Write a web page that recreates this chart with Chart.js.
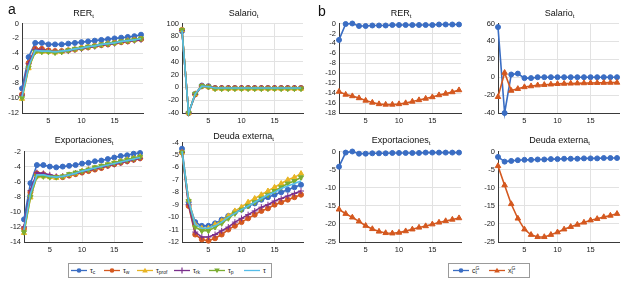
<!DOCTYPE html>
<html>
<head>
<meta charset="utf-8">
<script src="https://cdn.jsdelivr.net/npm/chart.js@4/dist/chart.umd.min.js"></script>
<style>
  html,body{margin:0;padding:0;background:#fff;}
  #wrap{position:relative;width:624px;height:281px;overflow:hidden;font-family:"Liberation Sans",Arial,sans-serif;color:#222;}
  canvas{position:absolute;}
  .ttl{position:absolute;text-align:center;font-size:9px;line-height:10px;color:#111;white-space:nowrap;}
  .ttl sub{font-size:6px;vertical-align:-2px;line-height:0;}
  .pl{position:absolute;font-size:14px;line-height:14px;color:#111;}
  .leg{position:absolute;border:1px solid #9a9a9a;background:#fff;height:13px;}
  .li{position:absolute;top:0;height:13px;font-size:7px;line-height:13px;color:#222;white-space:nowrap;}
  .li svg{position:absolute;top:0;left:0;}
  .li span{position:absolute;top:0;}
  .li sub{font-size:5px;vertical-align:-1px;line-height:0;}
  .li sup{font-size:5px;vertical-align:3px;line-height:0;}
</style>
</head>
<body>
<div id="wrap"></div>
<script>
// ---------- data ----------
const periods = [1,2,3,4,5,6,7,8,9,10,11,12,13,14,15,16,17,18,19];
const xTicks = [5,10,15];

// Panel a, RER_t
const aRER_tc    = [-8.7,-4.5,-2.6,-2.6,-2.8,-2.8,-2.8,-2.7,-2.6,-2.5,-2.4,-2.3,-2.2,-2.1,-2.0,-1.9,-1.8,-1.7,-1.5];
const aRER_tw    = [-9.5,-5.3,-3.4,-3.4,-3.6,-3.7,-3.7,-3.6,-3.5,-3.3,-3.2,-3.0,-2.9,-2.8,-2.6,-2.5,-2.4,-2.2,-2.1];
const aRER_tprof = [-10.1,-6.0,-3.8,-3.8,-3.8,-3.9,-3.8,-3.6,-3.5,-3.3,-3.2,-3.0,-2.9,-2.7,-2.6,-2.5,-2.3,-2.2,-2.1];
const aRER_trk   = [-9.6,-5.4,-3.5,-3.5,-3.7,-3.8,-3.8,-3.7,-3.5,-3.4,-3.2,-3.1,-2.9,-2.8,-2.7,-2.5,-2.4,-2.3,-2.2];
const aRER_tp    = [-10.0,-5.9,-3.8,-3.8,-3.8,-3.9,-3.8,-3.6,-3.4,-3.3,-3.1,-3.0,-2.8,-2.7,-2.6,-2.4,-2.3,-2.2,-2.0];
const aRER_t     = [-9.8,-5.7,-3.6,-3.7,-3.7,-3.8,-3.7,-3.6,-3.4,-3.3,-3.1,-3.0,-2.8,-2.7,-2.6,-2.4,-2.3,-2.2,-2.0];

// Panel a, Salario_t
const aSal_tc    = [88,-40,-10,3,2,-1,-1,-1,-1,-1,-1,-1,-1,-1,-1,-1,-1,-1,-1];
const aSal_tw    = [90,-40,-11,2,1,-1,-1,-1,-1,-1,-1,-1,-1,-1,-1,-1,-1,-1,-1];
const aSal_tprof = [90,-40,-10,2,1,-2,-2,-2,-2,-2,-2,-2,-2,-2,-2,-2,-2,-2,-2];
const aSal_trk   = [89,-40,-11,2,1,-1,-1,-1,-1,-1,-1,-1,-1,-1,-1,-1,-1,-1,-1];
const aSal_tp    = [90,-40,-10,2,1,-2,-2,-2,-2,-2,-2,-2,-2,-2,-2,-2,-2,-2,-2];
const aSal_t     = [89,-40,-10,2,1,-1,-1,-1,-1,-1,-1,-1,-1,-1,-1,-1,-1,-1,-1];

// Panel a, Exportaciones_t
const aExp_tc    = [-11.0,-6.2,-3.8,-3.8,-4.0,-4.1,-4.0,-3.9,-3.8,-3.6,-3.5,-3.3,-3.2,-3.0,-2.8,-2.6,-2.5,-2.3,-2.2];
const aExp_tw    = [-12.2,-7.4,-4.9,-5.0,-5.3,-5.4,-5.4,-5.2,-5.0,-4.8,-4.6,-4.4,-4.2,-3.9,-3.7,-3.5,-3.3,-3.1,-2.9];
const aExp_tprof = [-12.8,-8.1,-5.3,-5.3,-5.4,-5.5,-5.3,-5.1,-4.9,-4.6,-4.4,-4.2,-4.0,-3.8,-3.5,-3.3,-3.1,-2.9,-2.7];
const aExp_trk   = [-12.0,-7.2,-4.8,-4.9,-5.1,-5.3,-5.3,-5.1,-4.9,-4.7,-4.5,-4.3,-4.1,-3.9,-3.7,-3.5,-3.3,-3.1,-2.9];
const aExp_tp    = [-12.7,-8.0,-5.3,-5.3,-5.4,-5.4,-5.3,-5.0,-4.8,-4.6,-4.4,-4.1,-3.9,-3.7,-3.5,-3.3,-3.1,-2.9,-2.7];
const aExp_t     = [-12.4,-7.6,-5.1,-5.1,-5.3,-5.4,-5.3,-5.1,-4.9,-4.6,-4.4,-4.2,-4.0,-3.8,-3.6,-3.4,-3.2,-3.0,-2.8];

// Panel a, Deuda externa_t
const aDeu_tc    = [-4.5,-8.8,-10.4,-10.7,-10.7,-10.5,-10.2,-9.9,-9.6,-9.4,-9.1,-8.9,-8.6,-8.4,-8.2,-8.0,-7.8,-7.6,-7.4];
const aDeu_tw    = [-4.8,-9.1,-11.4,-11.8,-11.9,-11.7,-11.4,-11.0,-10.7,-10.4,-10.1,-9.8,-9.5,-9.3,-9.0,-8.8,-8.6,-8.4,-8.2];
const aDeu_tprof = [-4.8,-8.6,-10.6,-10.9,-10.9,-10.6,-10.3,-9.9,-9.5,-9.2,-8.8,-8.5,-8.2,-7.9,-7.6,-7.3,-7.0,-6.8,-6.5];
const aDeu_trk   = [-4.8,-9.0,-11.2,-11.6,-11.6,-11.4,-11.1,-10.8,-10.4,-10.1,-9.8,-9.5,-9.2,-9.0,-8.7,-8.5,-8.3,-8.1,-7.9];
const aDeu_tp    = [-4.8,-8.7,-10.8,-11.1,-11.1,-10.8,-10.5,-10.1,-9.7,-9.4,-9.1,-8.8,-8.5,-8.2,-7.9,-7.6,-7.3,-7.1,-6.8];
const aDeu_t     = [-4.7,-8.7,-10.6,-10.9,-10.9,-10.7,-10.4,-10.0,-9.7,-9.4,-9.1,-8.8,-8.5,-8.2,-8.0,-7.7,-7.5,-7.3,-7.1];

// Panel b
const bRER_c = [-3.3,-0.1,0,-0.5,-0.5,-0.4,-0.4,-0.4,-0.3,-0.3,-0.3,-0.3,-0.3,-0.3,-0.3,-0.2,-0.2,-0.2,-0.2];
const bRER_x = [-13.7,-14.3,-14.6,-15.0,-15.5,-15.9,-16.2,-16.3,-16.3,-16.2,-16.0,-15.7,-15.4,-15.1,-14.8,-14.4,-14.1,-13.8,-13.4];
const bSal_c = [56,-40,3,4,-1,-1,0,0,0,0,0,0,0,0,0,0,0,0,0];
const bSal_x = [-22,5,-15,-13,-11,-10,-9,-8.5,-8,-7.5,-7.2,-7,-6.8,-6.6,-6.4,-6.3,-6.2,-6.1,-6];
const bExp_c = [-4.2,-0.3,0,-0.6,-0.6,-0.5,-0.5,-0.5,-0.4,-0.4,-0.4,-0.4,-0.4,-0.3,-0.3,-0.3,-0.3,-0.3,-0.3];
const bExp_x = [-16,-17.2,-18.2,-19.3,-20.5,-21.4,-22.1,-22.5,-22.6,-22.4,-22.0,-21.5,-21.0,-20.6,-20.1,-19.6,-19.2,-18.8,-18.4];
const bDeu_c = [-1.5,-2.8,-2.6,-2.4,-2.3,-2.3,-2.2,-2.2,-2.1,-2.1,-2.0,-2.0,-2.0,-1.9,-1.9,-1.9,-1.8,-1.8,-1.8];
const bDeu_x = [-4,-9.3,-14.5,-18.5,-21.5,-23,-23.6,-23.6,-23,-22.3,-21.5,-20.8,-20.2,-19.6,-19.0,-18.6,-18.1,-17.7,-17.2];

// ---------- styles ----------
const C = {blue:'#3a6dc3', orange:'#d4581f', yellow:'#e8b423', purple:'#7a2f8c', green:'#7bad32', cyan:'#55bde9'};
const styA = [
  {color:C.blue,   ps:'circle',   r:2.5, rot:0},
  {color:C.orange, ps:'circle',   r:2.5, rot:0},
  {color:C.yellow, ps:'triangle', r:3,   rot:0},
  {color:C.purple, ps:'cross',    r:3,   rot:0},
  {color:C.green,  ps:'triangle', r:3,   rot:180},
  {color:C.cyan,   ps:'circle',   r:0,   rot:0}
];
const styB = [
  {color:C.blue,   ps:'circle',   r:2.5, rot:0},
  {color:C.orange, ps:'triangle', r:3.2, rot:0}
];

function mkDatasets(series, sty){
  const n = series.length;
  return series.map((vals,i)=>({
    data: periods.map((p,k)=>({x:p, y:vals[k]})),
    borderColor: sty[i].color, backgroundColor: sty[i].color,
    borderWidth: 1.6, pointStyle: sty[i].ps, pointRadius: sty[i].r,
    pointRotation: sty[i].rot, pointBorderWidth: 1,
    pointBorderColor: sty[i].color, pointBackgroundColor: sty[i].color,
    tension: 0, order: n - i, clip: false
  }));
}

const wrap = document.getElementById('wrap');
const PADL = 30, PADT = 5, PADR = 3, PADB = 14;

function makeChart(L,T,R,B,yMin,yMax,yStep,datasets){
  const cv = document.createElement('canvas');
  const w = (R-L)+PADL+PADR, h = (B-T)+PADT+PADB;
  cv.width = w; cv.height = h;
  cv.style.left = (L-PADL)+'px'; cv.style.top = (T-PADT)+'px';
  cv.style.width = w+'px'; cv.style.height = h+'px';
  wrap.appendChild(cv);
  const yt = [];
  for(let v=yMin; v<=yMax+1e-9; v+=yStep) yt.push(v);
  const font = {size:7.5, family:'"Liberation Sans", Arial, sans-serif'};
  new Chart(cv, {
    type:'line',
    data:{datasets},
    options:{
      responsive:false, maintainAspectRatio:false, animation:false,
      devicePixelRatio:1,
      layout:{padding:{left:0,right:PADR,top:PADT,bottom:0}},
      plugins:{legend:{display:false}, tooltip:{enabled:false}, title:{display:false}},
      scales:{
        x:{type:'linear', min:1, max:19.3,
           afterBuildTicks:s=>{s.ticks = xTicks.map(v=>({value:v}));},
           afterFit:s=>{s.height = PADB;},
           grid:{color:'#e2e2e2', lineWidth:1, drawTicks:false},
           border:{color:'#3a3a3a', width:1},
           ticks:{font, color:'#222', padding:3, maxRotation:0, autoSkip:false}},
        y:{type:'linear', min:yMin, max:yMax,
           afterBuildTicks:s=>{s.ticks = yt.map(v=>({value:v}));},
           afterFit:s=>{s.width = PADL;},
           grid:{color:'#e2e2e2', lineWidth:1, drawTicks:false},
           border:{color:'#3a3a3a', width:1},
           ticks:{font, color:'#222', padding:3, autoSkip:false}}
      }
    }
  });
}

function title(html, L, R, cy){
  const d = document.createElement('div');
  d.className = 'ttl';
  d.style.left = L+'px'; d.style.width = (R-L)+'px'; d.style.top = (cy-5)+'px';
  d.innerHTML = html;
  wrap.appendChild(d);
}

// Panel a
makeChart(22,21,145,113,-12,0,2, mkDatasets([aRER_tc,aRER_tw,aRER_tprof,aRER_trk,aRER_tp,aRER_t], styA));
makeChart(182,21,305,113,-40,100,20, mkDatasets([aSal_tc,aSal_tw,aSal_tprof,aSal_trk,aSal_tp,aSal_t], styA));
makeChart(24,149,144,242,-14,-2,2, mkDatasets([aExp_tc,aExp_tw,aExp_tprof,aExp_trk,aExp_tp,aExp_t], styA));
makeChart(182,140,305,242,-12,-4,1, mkDatasets([aDeu_tc,aDeu_tw,aDeu_tprof,aDeu_trk,aDeu_tp,aDeu_t], styA));
// Panel b
makeChart(339,21,463,113,-18,0,2, mkDatasets([bRER_c,bRER_x], styB));
makeChart(498,21,621,113,-40,60,20, mkDatasets([bSal_c,bSal_x], styB));
makeChart(339,149,463,242,-25,0,5, mkDatasets([bExp_c,bExp_x], styB));
makeChart(498,149,621,242,-25,0,5, mkDatasets([bDeu_c,bDeu_x], styB));

title('RER<sub>t</sub>',22,145,13);
title('Salario<sub>t</sub>',182,305,13);
title('Exportaciones<sub>t</sub>',24,144,140);
title('Deuda externa<sub>t</sub>',182,305,136);
title('RER<sub>t</sub>',339,463,13);
title('Salario<sub>t</sub>',498,621,13);
title('Exportaciones<sub>t</sub>',339,463,140);
title('Deuda externa<sub>t</sub>',498,621,140);

function label(t,x,y){const d=document.createElement('div');d.className='pl';d.style.left=x+'px';d.style.top=y+'px';d.textContent=t;wrap.appendChild(d);}
label('a',8,2);
label('b',318,4);

// ---------- legends ----------
function markerSVG(s){
  const c = s.color; let m = '';
  if(s.r>0){
    if(s.ps==='circle') m = `<circle cx="8" cy="6.5" r="2.3" fill="${c}"/>`;
    else if(s.ps==='cross') m = `<path d="M8 3.5V9.5M5 6.5H11" stroke="${c}" stroke-width="1.2"/>`;
    else if(s.ps==='triangle' && s.rot===0) m = `<path d="M8 3.8L10.8 8.6H5.2Z" fill="${c}"/>`;
    else m = `<path d="M8 9.2L10.8 4.4H5.2Z" fill="${c}"/>`;
  }
  return `<svg width="16" height="13"><line x1="0" y1="6.5" x2="16" y2="6.5" stroke="${c}" stroke-width="1.3"/>${m}</svg>`;
}
function legend(L,T,W,items,sty){
  const box = document.createElement('div');
  box.className='leg';
  box.style.left=L+'px'; box.style.top=T+'px'; box.style.width=W+'px';
  items.forEach((it,i)=>{
    const d=document.createElement('div');
    d.className='li'; d.style.left=it.x+'px';
    d.innerHTML = markerSVG(sty[i]) + `<span style="left:19px">${it.html}</span>`;
    box.appendChild(d);
  });
  wrap.appendChild(box);
}
const legA = [
  {x:2,   html:'τ<sub>c</sub>'},
  {x:35,  html:'τ<sub>w</sub>'},
  {x:68,  html:'τ<sub>prof</sub>'},
  {x:105, html:'τ<sub>rk</sub>'},
  {x:140, html:'τ<sub>p</sub>'},
  {x:175, html:'τ'}
];
legend(68,263,202,legA,styA);
const legB = [
  {x:4,  html:'c<sup>G</sup><sub style="margin-left:-4px">t</sub>'},
  {x:40, html:'x<sup>G</sup><sub style="margin-left:-4px">t</sub>'}
];
legend(448,263,80,legB,styB);
</script>
</body>
</html>
